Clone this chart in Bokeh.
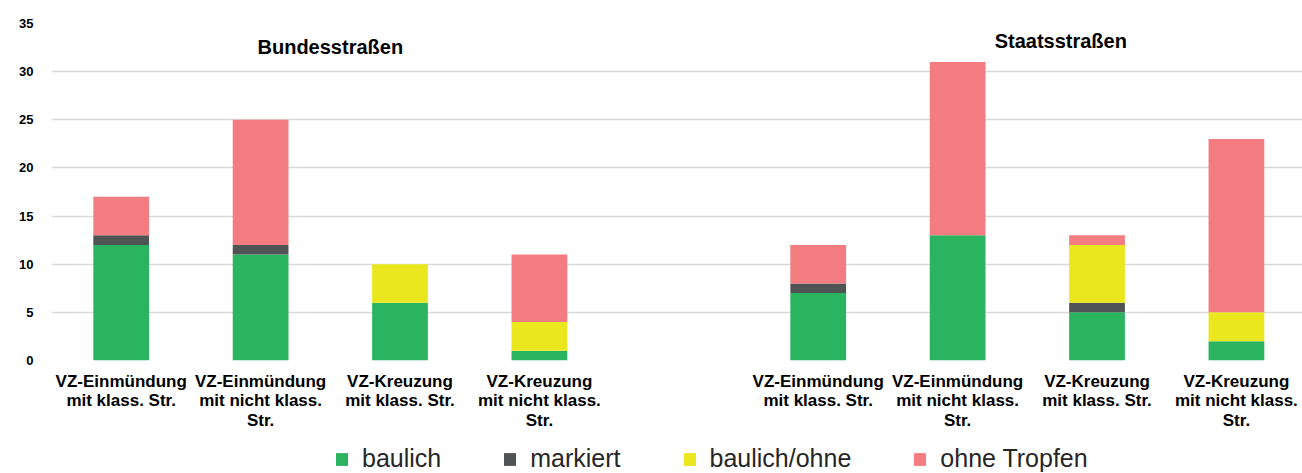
from bokeh.plotting import figure
from bokeh.models import ColumnDataSource, Range1d, FixedTicker
from bokeh.layouts import column
from bokeh.core.properties import value
from bokeh.embed import file_html
from bokeh.resources import INLINE

# ---- data ----
categories = [
    "VZ-Einmündung\nmit klass. Str.",
    "VZ-Einmündung\nmit nicht klass.\nStr.",
    "VZ-Kreuzung\nmit klass. Str.",
    "VZ-Kreuzung\nmit nicht klass.\nStr.",
]
groups = ["Bundesstraßen", "Staatsstraßen"]
series = ["baulich", "markiert", "baulich/ohne", "ohne Tropfen"]
baulich = [12, 11, 6, 1, 7, 13, 5, 2]
markiert = [1, 1, 0, 0, 1, 0, 1, 0]
baulich_ohne = [0, 0, 4, 3, 0, 0, 6, 3]
ohne_tropfen = [4, 13, 0, 7, 4, 18, 1, 18]
y_ticks = [0, 5, 10, 15, 20, 25, 30, 35]

colors = ["#2bb45f", "#505354", "#ebe71e", "#f27c80"]

# slot positions: 4 categories per group, one empty slot between groups
n_cat = len(categories)
xs = [g * (n_cat + 1) + i + 1 for g in range(len(groups)) for i in range(n_cat)]
labels = [c for _ in groups for c in categories]

src = ColumnDataSource(dict(
    x=xs,
    s0=baulich, s1=markiert, s2=baulich_ohne, s3=ohne_tropfen,
))

p = figure(width=1302, height=433, output_backend="svg", toolbar_location=None,
           x_range=Range1d(0.5, 9.474), y_range=Range1d(0, 35),
           min_border_left=51, min_border_right=0, min_border_top=23,
           min_border_bottom=71)
p.outline_line_color = None

p.vbar_stack(["s0", "s1", "s2", "s3"], x="x", width=0.4, source=src,
             color=colors, line_color=None)

# axes
p.xaxis.ticker = FixedTicker(ticks=xs)
p.xaxis.major_label_overrides = {x: l for x, l in zip(xs, labels)}
p.xaxis.axis_line_color = None
p.xaxis.major_tick_line_color = None
p.xaxis.minor_tick_line_color = None
p.xaxis.major_label_text_font = "Liberation Sans"
p.xaxis.major_label_text_font_style = "bold"
p.xaxis.major_label_text_font_size = "17px"
p.xaxis.major_label_text_color = "black"
p.xaxis.major_label_standoff = 5
p.xaxis.major_label_text_line_height = 1.05

p.yaxis.ticker = FixedTicker(ticks=y_ticks)
p.yaxis.axis_line_color = None
p.yaxis.major_tick_line_color = None
p.yaxis.minor_tick_line_color = None
p.yaxis.major_label_text_font = "Liberation Sans"
p.yaxis.major_label_text_font_style = "bold"
p.yaxis.major_label_text_font_size = "13px"
p.yaxis.major_label_text_color = "black"
p.yaxis.major_label_standoff = 12

p.xgrid.grid_line_color = None
p.ygrid.ticker = FixedTicker(ticks=y_ticks)
p.ygrid.grid_line_color = "#d9d9d9"
p.ygrid.grid_line_width = 1.5

# group titles
p.text(x=[2.5, 7.74], y=[32.6, 33.2], text=groups,
       text_font=value("Liberation Sans"), text_font_style="bold",
       text_font_size="20px", text_color="black",
       text_align="center", text_baseline="middle")

# legend strip below the chart (swatch renderers have zero size)
pl = figure(width=1302, height=40, output_backend="svg", toolbar_location=None,
            x_range=Range1d(0, 1), y_range=Range1d(0, 1),
            min_border=0)
pl.outline_line_color = None
pl.axis.visible = False
pl.grid.visible = False
for s, c in zip(series, colors):
    pl.vbar(x=[0.5], top=[0], bottom=[0], width=0, color=c, line_color=None,
            legend_label=s)

lg = pl.legend[0]
lg.orientation = "horizontal"
lg.location = (283, 0)
lg.padding = 0
lg.margin = 0
lg.spacing = 61
lg.border_line_color = None
lg.background_fill_alpha = 0
lg.glyph_width = 15
lg.glyph_height = 16
lg.label_standoff = 13
lg.label_height = 18
lg.label_text_font = "Liberation Sans"
lg.label_text_font_size = "25px"
lg.label_text_color = "#262626"

layout = column(p, pl, spacing=0)
open("out.html", "w").write(file_html(layout, INLINE))
